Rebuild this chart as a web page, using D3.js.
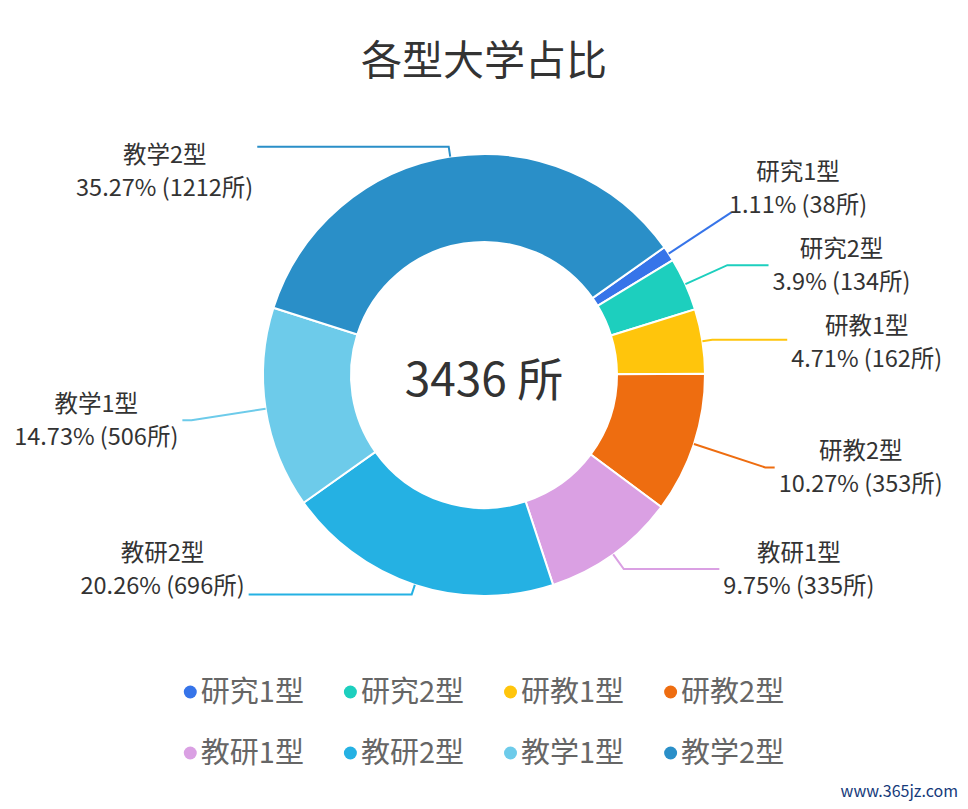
<!DOCTYPE html>
<html>
<head>
<meta charset="utf-8">
<title>各型大学占比</title>
<style>
body {
  margin: 0;
  background: #fff;
}
#chart {
  display: block;
}
#chart text {
  font-family: "Noto Sans CJK SC", "Noto Sans", sans-serif;
}
#chart .label-line {
  fill: none;
  stroke-width: 2;
}
#chart .slice {
  stroke: #fff;
  stroke-width: 2;
}
</style>
</head>
<body>
<svg id="chart" width="968" height="809"></svg>
<script src="https://cdn.jsdelivr.net/npm/d3@7/dist/d3.min.js"></script>
<script>
// data
const categories = ['研究1型', '研究2型', '研教1型', '研教2型', '教研1型', '教研2型', '教学1型', '教学2型'];
const counts = [38, 134, 162, 353, 335, 696, 506, 1212];
const colors = ['#3674e9', '#1dcfbe', '#ffc50c', '#ee6d10', '#daa0e3', '#25b1e3', '#6dcbea', '#2a8fc8'];
const titleText = '各型大学占比';
const unit = '所';

// layout
const W = 968, H = 809;
const cx = 484, cy = 375;
const outerR = 221, innerR = 133;
const startAngle = 54.7 * Math.PI / 180;
const len1 = 75;        // max first segment of a label line
const reach = 305;      // radius on which label anchors sit
const minGap = 77;      // min distance between two label blocks
const yMin = 171, yMax = 569;

const svg = d3.select('#chart');
const total = d3.sum(counts);

const rows = categories.map((name, i) => ({
  name: name,
  value: counts[i],
  color: colors[i],
  pct: String(+(counts[i] / total * 100).toFixed(2))
}));

// title
svg.append('text')
  .attr('x', cx)
  .attr('y', 75)
  .attr('text-anchor', 'middle')
  .attr('font-size', 41)
  .attr('fill', '#333')
  .text(titleText);

const pie = d3.pie()
  .sort(null)
  .value(d => d.value)
  .startAngle(startAngle)
  .endAngle(startAngle + 2 * Math.PI);
const arcs = pie(rows);

const arc = d3.arc().innerRadius(innerR).outerRadius(outerR);

const g = svg.append('g').attr('transform', `translate(${cx},${cy})`);

g.selectAll('path.slice')
  .data(arcs)
  .join('path')
  .attr('class', 'slice')
  .attr('d', arc)
  .attr('fill', d => d.data.color);

// centre total
svg.append('text')
  .attr('x', cx)
  .attr('y', 379)
  .attr('dy', '0.36em')
  .attr('text-anchor', 'middle')
  .attr('font-size', 46)
  .attr('fill', '#333')
  .text(`${total} ${unit}`);

// label positions: natural spot along the mid angle, then spread per side
const labels = arcs.map(d => {
  const mid = (d.startAngle + d.endAngle) / 2;
  const dir = [Math.sin(mid), -Math.cos(mid)];
  return {
    d: d,
    dir: dir,
    side: dir[0] >= 0 ? 1 : -1,
    p1: [cx + outerR * dir[0], cy + outerR * dir[1]],
    y: cy + (outerR + len1) * dir[1]
  };
});

function spreadSide(items) {
  items.sort((a, b) => a.y - b.y);
  const clamp = () => items.forEach(l => { l.y = Math.max(yMin, Math.min(yMax, l.y)); });
  clamp();
  for (let k = 0; k < 200; k++) {
    let moved = false;
    for (let i = 1; i < items.length; i++) {
      const gap = items[i].y - items[i - 1].y;
      if (gap < minGap - 0.01) {
        const push = (minGap - gap) / 2;
        items[i - 1].y -= push;
        items[i].y += push;
        moved = true;
      }
    }
    clamp();
    if (!moved) break;
  }
}
spreadSide(labels.filter(l => l.side > 0));
spreadSide(labels.filter(l => l.side < 0));

labels.forEach(l => {
  const dy = l.y - cy;
  l.ax = cx + l.side * Math.sqrt(Math.max(reach * reach - dy * dy, 0));
  let t = Math.abs(l.dir[1]) > 0.05 ? (l.y - l.p1[1]) / l.dir[1] : len1;
  t = Math.max(10, Math.min(len1, t));
  l.p2 = [l.p1[0] + t * l.dir[0], l.p1[1] + t * l.dir[1]];
  const pts = [l.p1, l.p2];
  if (l.side * (l.ax - l.p2[0]) > 0) {
    pts.push([l.ax, l.p2[1]]);
  }
  l.points = pts;
});

svg.selectAll('polyline.label-line')
  .data(labels)
  .join('polyline')
  .attr('class', 'label-line')
  .attr('stroke', l => l.d.data.color)
  .attr('points', l => l.points.map(p => p.join(',')).join(' '));

const lab = svg.selectAll('g.label')
  .data(labels)
  .join('g')
  .attr('class', 'label');

lab.append('text')
  .attr('class', 'l1')
  .attr('y', l => l.y - 16.5)
  .text(l => l.d.data.name);
lab.append('text')
  .attr('class', 'l2')
  .attr('y', l => l.y + 16.5)
  .text(l => `${l.d.data.pct}% (${l.d.data.value}${unit})`);
lab.selectAll('text')
  .attr('dy', '0.36em')
  .attr('font-size', 23.5)
  .attr('fill', '#333')
  .attr('text-anchor', 'middle');

lab.each(function (l) {
  const texts = d3.select(this).selectAll('text');
  let w = 0;
  texts.each(function () { w = Math.max(w, this.getComputedTextLength()); });
  const centre = l.side > 0 ? l.ax + 4 + w / 2 : l.ax - 4 - w / 2;
  texts.attr('x', centre);
});

// legend, two rows of four, centred
const legendFont = 29;
const iconR = 6.5;
const perRow = 4;
const legend = svg.append('g').attr('class', 'legend');
const items = legend.selectAll('g.item')
  .data(rows)
  .join('g')
  .attr('class', 'item');
items.append('circle')
  .attr('r', iconR)
  .attr('fill', d => d.color);
items.append('text')
  .attr('x', iconR + 4)
  .attr('dy', '0.36em')
  .attr('font-size', legendFont)
  .attr('fill', '#666')
  .text(d => d.name);

const rowY = d3.scalePoint().domain([0, 1]).range([692, 753]);
const itemGap = 40;
const nodes = items.nodes();
for (let r = 0; r < 2; r++) {
  const rowNodes = nodes.slice(r * perRow, r * perRow + perRow);
  const widths = rowNodes.map(n => 2 * iconR + 4 + n.querySelector('text').getComputedTextLength());
  const rowW = d3.sum(widths) + itemGap * (rowNodes.length - 1);
  let x = cx - rowW / 2;
  rowNodes.forEach((n, i) => {
    d3.select(n).attr('transform', `translate(${x + iconR},${rowY(r)})`);
    x += widths[i] + itemGap;
  });
}

// watermark
svg.append('text')
  .attr('x', W - 10)
  .attr('y', 797)
  .attr('text-anchor', 'end')
  .attr('font-family', '"DejaVu Serif", serif')
  .attr('font-size', 16)
  .attr('fill', '#163a7a')
  .text('www.365jz.com');
</script>
</body>
</html>
